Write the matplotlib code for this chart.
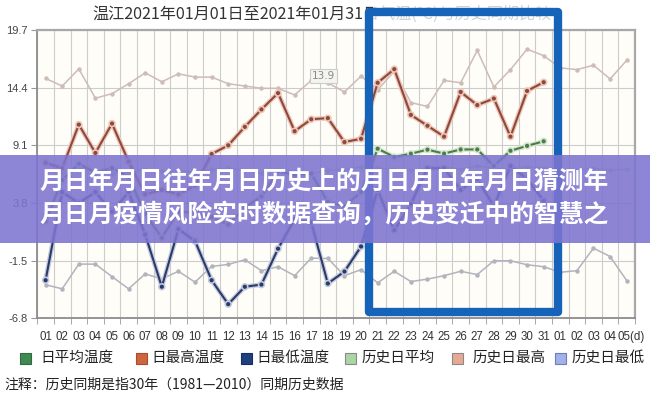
import numpy as np
import matplotlib
matplotlib.use('Agg')
import matplotlib.pyplot as plt
from matplotlib.patches import Rectangle
import matplotlib.patheffects as pe
import matplotlib.transforms as mtransforms

plt.rcParams['font.family'] = ['Noto Sans CJK SC', 'DejaVu Sans']

# ---- data ----
day_labels = ['01', '02', '03', '04', '05', '06', '07', '08', '09', '10',
              '11', '12', '13', '14', '15', '16', '17', '18', '19', '20',
              '21', '22', '23', '24', '25', '26', '27', '28', '29', '30',
              '31', '01', '02', '03', '04', '05(d)']

hist_max = [15.25, 14.55, 16.12, 13.43, 13.85, 14.76, 15.76, 14.94, 15.67, 15.37,
            15.37, 14.76, 14.55, 14.34, 14.34, 13.73, 15.06, 14.85, 14.0, 15.46,
            14.2, 15.9, 13.03, 12.67, 15.06, 14.85, 17.82, 14.46, 16.06, 17.94,
            17.34, 16.22, 16.06, 16.46, 15.2, 16.91]
hist_avg = [7.5, 6.6, 7.0, 6.8, 6.5, 6.6, 6.9, 6.7, 6.8, 6.6,
            6.9, 7.0, 6.8, 6.6, 6.9, 6.7, 6.5, 6.8, 6.9, 7.1,
            7.0, 6.9, 6.8, 7.0, 7.1, 6.9, 7.2, 7.0, 6.9, 7.1,
            7.0, 6.9, 6.8, 7.0, 6.8, 6.9]
hist_min = [-3.72, -4.09, -1.82, -1.82, -2.97, -4.09, -2.72, -3.18, -2.48, -3.48,
            -2.03, -1.85, -1.42, -2.42, -2.06, -2.88, -1.27, -1.30, -2.88, -2.33,
            -3.54, -2.48, -3.42, -3.2, -2.88, -2.48, -2.78, -1.51, -1.51, -1.88,
            -2.06, -2.57, -2.42, -0.36, -1.12, -3.33]

day_max = [7.5, 7.0, 11.0, 8.4, 11.1, 7.6, 4.6, 5.0, 4.6, 5.4,
           8.3, 9.1, 10.8, 12.4, 13.9, 10.4, 11.5, 11.6, 9.4, 9.7,
           14.85, 16.1, 11.9, 10.9, 9.9, 14.0, 12.8, 13.4, 9.9, 14.1,
           14.9]
day_avg = [2.1, 5.9, 7.4, 6.6, 7.0, 6.2, 2.8, 0.6, 3.0, 2.9,
           2.5, 1.8, 3.4, 4.4, 6.7, 6.4, 6.5, 3.9, 3.5, 4.8,
           8.79, 8.03, 8.33, 8.7, 8.34, 8.72, 8.72, 7.2, 8.6, 9.05,
           9.47]
day_min = [-3.3, 4.8, 3.8, 4.8, 3.0, 4.8, 0.9, -3.9, 1.4, 0.3,
           -3.3, -5.5, -3.9, -3.7, -0.4, 2.3, 2.0, -3.6, -2.5, -0.2,
           5.0, 1.3, 3.7, 7.0, 7.0, 5.0, 6.0, 3.5, 7.2, 6.0,
           4.0]

y_ticks = [19.7, 14.4, 9.1, 3.8, -1.5, -6.8]

title = '温江2021年01月01日至2021年01月31日气温(℃)与历史同期比较'
legend_labels = ['日平均温度', '日最高温度', '日最低温度', '历史日平均', '历史日最高', '历史日最低']
note = '注释：历史同期是指30年（1981—2010）同期历史数据'
banner_lines = ['月日年月日往年月日历史上的月日月日年月日猜测年',
                '月日月疫情风险实时数据查询，历史变迁中的智慧之']

W, H = 650, 399


def fx(x):
    return x / W


def fy(y):
    return 1 - y / H


fig = plt.figure(figsize=(6.5, 3.99), dpi=100)
ax = fig.add_axes([fx(37.3), fy(318.3), (635 - 37.3) / W, (318.3 - 30) / H])
ax.set_facecolor('#fffdf7')

x_all = np.arange(1, len(day_labels) + 1)
x_21 = np.arange(1, len(day_max) + 1)

ax.plot(x_all, hist_avg, color='#b5d9ae', lw=1.1, marker='o', ms=2.2, zorder=3)
ax.plot(x_all, hist_max, color='#cdbcb8', lw=1.1, marker='o', ms=2.2, zorder=3)
ax.plot(x_all, hist_min, color='#b2b4bd', lw=1.1, marker='o', ms=2.2, zorder=3)

ax.plot(x_21, day_avg, color='#4e7b4d', lw=1.5, marker='o', ms=2.0, zorder=4,
        path_effects=[pe.Stroke(linewidth=3.4, foreground='#d3e9cc'), pe.Normal()])
ax.plot(x_21, day_max, color='#8a4a3d', lw=1.5, marker='o', ms=2.0, zorder=4,
        path_effects=[pe.Stroke(linewidth=3.4, foreground='#f0c6b8'), pe.Normal()])
ax.plot(x_21, day_min, color='#2b3a66', lw=1.5, marker='o', ms=2.0, zorder=4,
        path_effects=[pe.Stroke(linewidth=3.4, foreground='#c4cbe0'), pe.Normal()])

ax.text(17.75, 15.5, '13.9', fontsize=7.5, color='#888', ha='center', va='center',
        family=['DejaVu Sans'], zorder=5,
        bbox=dict(boxstyle='square,pad=0.2', fc='#f4f4f0', ec='#cccccc', lw=0.8))

ax.set_xlim(0.5, 36.5)
ax.set_ylim(-6.8, 19.7)
ax.set_xticks(x_all)
ax.set_xticklabels(day_labels)
ax.set_xticks(np.arange(0.5, 37), minor=True)
ax.set_yticks(y_ticks)
ax.set_yticklabels([f'{v:.1f}' for v in y_ticks])
ax.tick_params(axis='x', which='major', length=0, pad=9, labelsize=8.3, colors='#333333')
ax.tick_params(axis='x', which='minor', length=4, color='#999999')
ax.tick_params(axis='y', length=4, color='#999999', pad=3, labelsize=8, colors='#444444')
for lbl in ax.get_xticklabels() + ax.get_yticklabels():
    lbl.set_family(['Liberation Sans Narrow', 'Liberation Sans', 'DejaVu Sans'])
last = ax.get_xticklabels()[-1]
last.set_transform(last.get_transform() + mtransforms.ScaledTranslation(4 / 100, 0, fig.dpi_scale_trans))
ax.grid(axis='y', which='major', color='#cccccc', lw=0.8)
ax.grid(axis='x', which='minor', color='#cccccc', lw=0.8)
ax.set_axisbelow(True)
for side in ['left', 'bottom']:
    ax.spines[side].set_color('#8c8c8c')
    ax.spines[side].set_linewidth(1.3)
for side in ['top', 'right']:
    ax.spines[side].set_color('#a8a8a8')
    ax.spines[side].set_linewidth(1.6)

# title
fig.text(fx(92), fy(14), title, fontsize=11.6, ha='left', va='center', color='#333333')

# legend
sq_x = [20, 136, 241, 345, 452, 555]
txt_x = [40, 151, 256, 362, 473, 571]
sq_fc = ['#3f8a52', '#cf6540', '#1f3f7f', '#a9d6a3', '#e9a892', '#a2b2e9']
sq_ec = ['#2e6b3e', '#a84c2e', '#172f60', '#8a8a8a', '#8a8a8a', '#6d7db8']
for sx, tx, fc, ec, lab in zip(sq_x, txt_x, sq_fc, sq_ec, legend_labels):
    fig.add_artist(Rectangle((fx(sx), fy(364)), 11 / W, 11 / H, transform=fig.transFigure,
                             fc=fc, ec=ec, lw=0.8))
    fig.text(fx(tx), fy(358), lab, fontsize=10.5, ha='left', va='center', color='#222222')

fig.text(fx(4), fy(385), note, fontsize=10, ha='left', va='center', color='#222222')

# fade over title inside the blue box
fig.add_artist(Rectangle((fx(373), fy(29)), (556 - 373) / W, 29 / H, transform=fig.transFigure,
                         fc='white', ec='none', alpha=0.78, zorder=4))
# blue highlight box
fig.add_artist(Rectangle((fx(369), fy(312)), (558 - 369) / W, (312 - 12) / H,
                         transform=fig.transFigure, fill=False, ec='#1664b9', lw=6,
                         joinstyle='round', zorder=5))
# purple banner
fig.add_artist(Rectangle((0, fy(243)), 1, (243 - 155) / H, transform=fig.transFigure,
                         fc='#7d74d0', ec='none', alpha=0.88, zorder=6))
fig.text(fx(39), fy(182), banner_lines[0], fontsize=17.8, weight='bold', color='white',
         ha='left', va='center', zorder=7)
fig.text(fx(39), fy(214), banner_lines[1], fontsize=17.8, weight='bold', color='white',
         ha='left', va='center', zorder=7)

fig.savefig('out.png', dpi=100)
